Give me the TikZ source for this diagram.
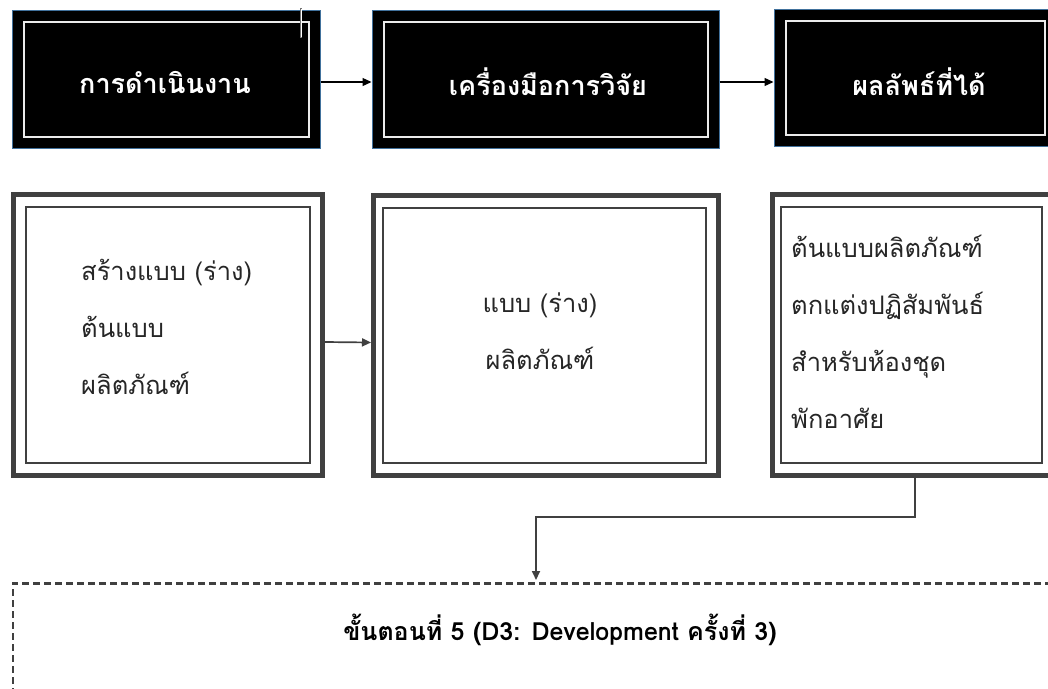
\documentclass[tikz,border=0pt]{standalone}
\usepackage{fontspec}
\newfontfamily\thai[Script=Thai]{Loma}
\usetikzlibrary{arrows.meta}
\definecolor{dg}{HTML}{404040}
\definecolor{edgeblue}{HTML}{41719C}
\begin{document}
\begin{tikzpicture}[x=1pt,y=-1pt,
  topbox/.style={draw=edgeblue, line width=1pt, fill=black, inner sep=0pt},
  innerw/.style={draw=white!92!black, line width=2pt},
  rowbox/.style={draw=dg, line width=5pt, fill=white, inner sep=0pt},
  innerg/.style={draw=dg, line width=2.5pt},
  toptext/.style={text=white, font={\thai\bfseries\fontsize{27}{31}\selectfont}, inner sep=0pt},
  bodytext/.style={text=black!85, font={\thai\fontsize{25.5}{57}\selectfont}, inner sep=0pt},
  toparrow/.style={draw=black, line width=1.3pt, -{Triangle[length=9pt,width=8pt]}},
  conn/.style={draw=dg, line width=1.7pt, -{Triangle[length=9pt,width=8pt]}},
  dbox/.style={draw=dg, line width=2.5pt, dash pattern=on 7pt off 4pt, inner sep=0pt}
]
\useasboundingbox (0,0) rectangle (1048,688);
\clip (0,0) rectangle (1048,688);

% top row
\node[topbox, minimum width=308pt, minimum height=138pt] (t1) at (166,79) {};
\node[topbox, minimum width=347pt, minimum height=138pt] (t2) at (545.5,79) {};
\node[topbox, minimum width=282pt, minimum height=137pt] (t3) at (915,77.5) {};
\foreach \n in {t1,t2,t3}{
  \draw[innerw] ([shift={(12,12)}]\n.north west) rectangle ([shift={(-12,-12)}]\n.south east);
}
\node[toptext] (t1l) at (165,82) {การดำเนินงาน};
\node[toptext] (t2l) at (548,82) {เครื่องมือการวิจัย};
\node[toptext] (t3l) at (919,82) {ผลลัพธ์ที่ได้};
\draw[line width=2.4pt, black!55] (301,8) -- (301,38);
\draw[line width=0.9pt, white] (301,9) -- (301,37);

\draw[toparrow] ([yshift=-3pt]t1.east) -- ([yshift=-3pt]t2.west);
\draw[toparrow] ([yshift=-3pt]t2.east) -- ([yshift=-3pt]t2.east -| t3.west);

% second row
\node[rowbox, minimum width=309pt, minimum height=281pt] (r1) at (168,335) {};
\node[rowbox, minimum width=345pt, minimum height=280pt] (r2) at (546,335.5) {};
\node[rowbox, minimum width=285pt, minimum height=281pt] (r3) at (915,335) {};
\draw[innerg] ([shift={(15,15)}]r1.north west) rectangle ([shift={(-15,-15)}]r1.south east);
\draw[innerg] ([shift={(12,15)}]r2.north west) rectangle ([shift={(-15,-15)}]r2.south east);
\draw[innerg] ([shift={(11,15)}]r3.north west) rectangle ([shift={(-18,-15)}]r3.south east);

\node[bodytext, align=left, anchor=west] (r1l) at (81,327) {สร้างแบบ (ร่าง)\\ต้นแบบ\\ผลิตภัณฑ์};
\node[bodytext, align=center] (r2l) at (540,331) {แบบ (ร่าง)\\ผลิตภัณฑ์};
\node[bodytext, align=left, anchor=west] (r3l) at (791,332) {ต้นแบบผลิตภัณฑ์\\ตกแต่งปฏิสัมพันธ์\\สำหรับห้องชุด\\พักอาศัย};

\draw[conn] ([yshift=-7pt]r1.east) -- ([yshift=-7pt]r2.west);

% bottom dashed box
\node[dbox, anchor=north west, minimum width=1060pt, minimum height=140pt] (d3) at (11.5,582) {};
\node[font={\thai\bfseries\fontsize{25}{29}\selectfont}, inner sep=0pt] (d3l) at (560,630) {ขั้นตอนที่ 5 (D3: Development ครั้งที่ 3)};

\coordinate (bend) at (536,517);
\coordinate (tgt) at (536,580);
\draw[conn] (r3.south) |- (bend) -- (tgt);
\end{tikzpicture}
\end{document}
